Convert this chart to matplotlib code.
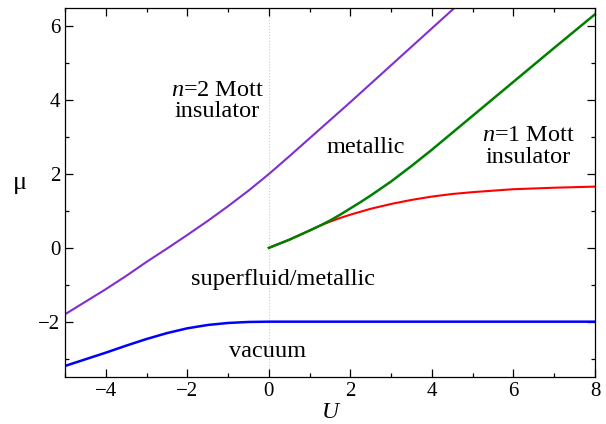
import numpy as np
import matplotlib
matplotlib.use("Agg")
import matplotlib.pyplot as plt
from matplotlib.ticker import MultipleLocator

plt.rcParams['font.family'] = ['Liberation Serif', 'DejaVu Serif']
plt.rcParams['mathtext.fontset'] = 'custom'
plt.rcParams['mathtext.rm'] = 'Liberation Serif'
plt.rcParams['mathtext.it'] = 'Liberation Serif:italic'

# phase boundaries mu(U)
U_n2 = [-5, -4.5, -4, -3.5, -3, -2.5, -2, -1.5, -1, -0.5, 0, 0.5, 1, 1.5, 2, 3, 4, 4.6]
mu_n2 = [-1.8, -1.46, -1.12, -0.76, -0.38, -0.02, 0.35, 0.73, 1.13, 1.55, 2.0,
         2.48, 2.97, 3.46, 3.95, 4.95, 5.95, 6.55]

U_vac = [-5, -4.5, -4, -3.5, -3, -2.5, -2, -1.5, -1, -0.5, 0, 8]
mu_vac = [-3.2, -3.02, -2.84, -2.65, -2.47, -2.31, -2.18, -2.09, -2.035, -2.008, -2.0, -2.0]

U_met = [0, 0.5, 1, 1.25, 1.5, 1.75, 2, 2.25, 2.5, 3, 3.5, 4, 4.5, 5, 5.5, 6, 7, 8]
mu_met = [0, 0.22, 0.47, 0.6, 0.74, 0.9, 1.07, 1.24, 1.42, 1.8, 2.22, 2.66, 3.12,
          3.58, 4.04, 4.5, 5.42, 6.33]

U_n1 = [0, 0.5, 1, 1.25, 1.5, 1.75, 2, 2.5, 3, 3.5, 4, 4.5, 5, 5.5, 6, 7, 8]
mu_n1 = [0, 0.22, 0.47, 0.6, 0.71, 0.81, 0.9, 1.06, 1.19, 1.3, 1.39, 1.46, 1.51,
         1.55, 1.59, 1.63, 1.66]

fig = plt.figure(figsize=(6.06, 4.24), dpi=100)
ax = fig.add_axes([0.1073, 0.1108, 0.8745, 0.8703])

ax.axvline(0, color='#cccccc', lw=0.8, ls=':', zorder=0)

ax.plot(U_n2, mu_n2, color='#7f2fcf', lw=1.5)
ax.plot(U_vac, mu_vac, color='#0000ff', lw=1.8)
ax.plot(U_n1, mu_n1, color='#ff0000', lw=1.5)
ax.plot(U_met, mu_met, color='#008000', lw=1.8)

ax.set_xlim(-5, 8)
ax.set_ylim(-3.5, 6.5)
ax.xaxis.set_minor_locator(MultipleLocator(1))
ax.yaxis.set_minor_locator(MultipleLocator(1))
ax.tick_params(which='both', direction='in', top=True, right=True, labelsize=15)
ax.tick_params(which='major', length=6, width=0.9)
ax.tick_params(which='minor', length=3, width=0.9)
ax.set_xticks([-4, -2, 0, 2, 4, 6, 8])
ax.set_xticklabels(['\u22124', '\u22122', '0', '2', '4', '6', '8'])
ax.set_yticks([-2, 0, 2, 4, 6])
ax.set_yticklabels(['\u22122', '0', '2', '4', '6'])
for s in ax.spines.values():
    s.set_linewidth(0.9)

ax.set_xlabel('U', fontsize=17, style='italic', labelpad=1)
ax.set_ylabel('\u03bc', fontsize=19, rotation=0, va='center')
ax.yaxis.set_label_coords(-0.085, 0.526)

fs = 17.5
ax.text(-1.27, 3.98, '$n$=$2$ Mott\ninsulator', fontsize=fs, ha='center', va='center', linespacing=1.05)
ax.text(2.39, 2.72, 'metallic', fontsize=fs, ha='center', va='center')
ax.text(6.36, 2.75, '$n$=$1$ Mott\ninsulator', fontsize=fs, ha='center', va='center', linespacing=1.05)
ax.text(0.35, -0.86, 'superfluid/metallic', fontsize=fs, ha='center', va='center')
ax.text(-0.02, -2.81, 'vacuum', fontsize=fs, ha='center', va='center')

fig.savefig('out.png', dpi=100)
